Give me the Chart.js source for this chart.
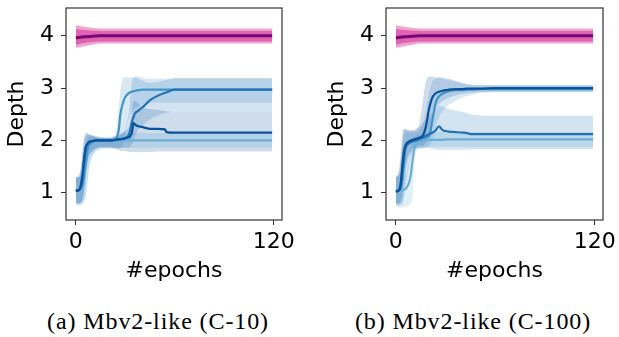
<!DOCTYPE html>
<html>
<head>
<meta charset="utf-8">
<script src="https://cdn.jsdelivr.net/npm/chart.js@4.4.0/dist/chart.umd.min.js"></script>
<style>
body { margin: 0; background: #fff; width: 619px; height: 337px; overflow: hidden; position: relative; }
canvas { position: absolute; top: 0; }
#c10 { left: 0; }
#c100 { left: 320px; }
.cap { position: absolute; top: 309px; font-family: "Liberation Serif"; font-size: 24px; letter-spacing: 0.9px;
       line-height: 24px; white-space: nowrap; transform: translateX(-50%); color: #000; }
</style>
</head>
<body>
<canvas id="c10" width="305" height="295"></canvas>
<canvas id="c100" width="299" height="295"></canvas>
<div class="cap" style="left:158px">(a) Mbv2-like (C-10)</div>
<div class="cap" style="left:473px">(b) Mbv2-like (C-100)</div>
<script>
const xTicks = [0, 120];
const yTicks = [1, 2, 3, 4];

// pink series (same in both panels)
const magEpochs  = [0, 5, 10, 15, 119];
const magMean    = [3.96, 3.98, 3.99, 4.0, 4.0];
const magOuterLo = [3.77, 3.80, 3.83, 3.85, 3.85];
const magOuterHi = [4.20, 4.17, 4.15, 4.14, 4.14];
const magInnerLo = [3.83, 3.86, 3.88, 3.89, 3.89];
const magInnerHi = [4.13, 4.11, 4.10, 4.09, 4.09];

// (a) C-10
const c10Epochs = [0, 2, 3, 4, 5, 6, 7, 8, 10, 12, 15, 20, 24, 26, 27, 28, 29, 30, 32, 33, 34, 35, 36, 38, 40, 42, 45, 50, 54, 55, 60, 80, 100, 119];
const c10A = [1.05,1.05,1.08,1.15,1.35,1.6,1.82,1.92,1.97,1.99,2.0,2.0,2.02,2.2,2.5,2.65,2.76,2.83,2.9,2.92,2.93,2.94,2.95,2.96,2.97,2.97,2.97,2.97,2.97,2.97,2.97,2.97,2.97,2.97];
const c10B = [1.04,1.06,1.15,1.35,1.65,1.87,1.94,1.97,1.99,2.0,2.0,2.0,2.01,2.02,2.02,2.03,2.04,2.05,2.1,2.2,2.35,2.45,2.52,2.57,2.62,2.68,2.77,2.86,2.91,2.92,2.97,2.97,2.97,2.97];
const c10C = [1.03,1.05,1.12,1.3,1.62,1.86,1.93,1.97,1.99,2.0,2.0,2.0,2.01,2.02,2.02,2.03,2.03,2.04,2.06,2.08,2.15,2.33,2.3,2.27,2.26,2.24,2.22,2.22,2.21,2.16,2.15,2.15,2.15,2.15];
const c10D = [1.06,1.06,1.07,1.12,1.3,1.55,1.78,1.9,1.96,1.98,1.99,2.0,2.0,2.0,2.0,2.0,2.0,2.0,2.0,2.0,2.0,2.0,2.0,2.0,2.0,2.0,2.0,2.0,2.0,2.0,2.0,2.0,2.0,2.0];
const c10ALo = [0.78,0.75,0.76,0.78,0.85,0.95,1.2,1.45,1.7,1.8,1.85,1.87,1.85,1.84,1.85,1.9,2.0,2.2,2.4,2.5,2.55,2.6,2.62,2.65,2.68,2.7,2.72,2.72,2.72,2.72,2.72,2.72,2.72,2.72];
const c10AHi = [1.3,1.3,1.35,1.45,1.7,1.95,2.1,2.12,2.1,2.08,2.06,2.05,2.12,2.6,2.95,3.15,3.2,3.2,3.2,3.2,3.2,3.21,3.22,3.22,3.2,3.19,3.18,3.18,3.18,3.18,3.19,3.19,3.19,3.19];
const c10BLo = [0.8,0.78,0.8,0.85,1.0,1.3,1.55,1.7,1.8,1.85,1.88,1.88,1.87,1.86,1.86,1.86,1.86,1.86,1.86,1.88,1.92,2.0,2.1,2.2,2.28,2.33,2.4,2.48,2.52,2.53,2.55,2.55,2.55,2.55];
const c10BHi = [1.3,1.35,1.5,1.8,2.05,2.15,2.15,2.12,2.1,2.08,2.06,2.05,2.07,2.08,2.1,2.12,2.15,2.25,2.5,2.8,3.1,3.2,3.2,3.18,3.15,3.12,3.1,3.12,3.15,3.16,3.19,3.19,3.19,3.19];
const c10CLo = [0.8,0.8,0.82,0.88,1.05,1.35,1.6,1.72,1.8,1.84,1.86,1.86,1.84,1.82,1.8,1.8,1.8,1.8,1.78,1.78,1.78,1.78,1.78,1.78,1.78,1.78,1.78,1.79,1.79,1.79,1.79,1.79,1.79,1.79];
const c10CHi = [1.28,1.3,1.45,1.75,2.0,2.1,2.12,2.1,2.08,2.06,2.05,2.05,2.08,2.1,2.12,2.14,2.16,2.18,2.25,2.35,2.55,2.75,2.75,2.7,2.65,2.62,2.6,2.58,2.56,2.55,2.55,2.55,2.55,2.55];
const c10DLo = [0.82,0.8,0.8,0.8,0.85,0.95,1.2,1.5,1.7,1.78,1.82,1.84,1.84,1.86,1.86,1.86,1.86,1.86,1.86,1.86,1.86,1.86,1.86,1.86,1.86,1.86,1.86,1.86,1.86,1.86,1.86,1.86,1.86,1.86];
const c10DHi = [1.3,1.3,1.32,1.4,1.6,1.85,2.0,2.05,2.08,2.06,2.05,2.05,2.08,2.14,2.14,2.14,2.14,2.14,2.14,2.14,2.14,2.14,2.14,2.14,2.14,2.14,2.14,2.14,2.14,2.14,2.14,2.14,2.14,2.14];

// (b) C-100
const c100Epochs = [0, 2, 3, 4, 5, 6, 8, 9, 10, 11, 12, 14, 16, 18, 20, 22, 24, 26, 28, 30, 32, 36, 40, 43, 45, 50, 60, 80, 100, 119];
const c100P = [1.02,1.05,1.2,1.55,1.82,1.92,1.98,2.0,2.01,2.02,2.03,2.05,2.08,2.25,2.6,2.82,2.9,2.93,2.95,2.96,2.97,2.98,2.98,2.99,2.99,2.99,3.0,3.0,3.0,3.0];
const c100Q = [1.04,1.05,1.1,1.3,1.6,1.85,1.95,1.97,1.98,1.99,2.0,2.02,2.04,2.06,2.08,2.38,2.72,2.84,2.89,2.92,2.94,2.96,2.96,2.97,2.97,2.98,2.98,2.98,2.98,2.98];
const c100R = [1.03,1.05,1.15,1.45,1.75,1.88,1.95,1.97,1.98,1.99,2.0,2.03,2.06,2.09,2.12,2.15,2.19,2.27,2.2,2.18,2.17,2.16,2.15,2.14,2.12,2.12,2.12,2.12,2.12,2.12];
const c100S = [1.04,1.04,1.05,1.05,1.06,1.08,1.2,1.35,1.6,1.82,1.93,1.98,2.0,2.0,2.01,2.01,2.01,2.01,2.01,2.02,2.02,2.02,2.02,2.02,2.02,2.02,2.02,2.02,2.02,2.02];
const c100PLo = [0.8,0.8,0.85,0.95,1.3,1.55,1.75,1.8,1.85,1.87,1.88,1.9,1.9,1.95,2.1,2.4,2.6,2.7,2.75,2.78,2.82,2.86,2.89,2.9,2.91,2.92,2.93,2.93,2.93,2.93];
const c100PHi = [1.3,1.45,1.8,2.15,2.22,2.22,2.2,2.2,2.2,2.2,2.22,2.3,2.7,3.1,3.22,3.22,3.2,3.2,3.2,3.19,3.18,3.14,3.1,3.08,3.07,3.06,3.06,3.06,3.06,3.06];
const c100QLo = [0.75,0.75,0.76,0.78,0.9,1.1,1.5,1.65,1.75,1.8,1.82,1.85,1.85,1.87,1.9,2.0,2.25,2.45,2.55,2.62,2.68,2.76,2.82,2.85,2.87,2.9,2.92,2.92,2.92,2.92];
const c100QHi = [1.3,1.35,1.5,1.85,2.1,2.15,2.15,2.15,2.15,2.15,2.15,2.2,2.3,2.55,2.9,3.12,3.18,3.2,3.18,3.16,3.15,3.12,3.09,3.07,3.06,3.05,3.05,3.05,3.05,3.05];
const c100RLo = [0.78,0.78,0.8,0.85,1.1,1.4,1.7,1.75,1.8,1.82,1.84,1.85,1.85,1.85,1.85,1.84,1.83,1.82,1.82,1.82,1.82,1.82,1.82,1.82,1.83,1.83,1.83,1.83,1.83,1.83];
const c100RHi = [1.3,1.4,1.65,2.0,2.2,2.2,2.18,2.18,2.18,2.18,2.2,2.25,2.32,2.4,2.45,2.52,2.6,2.66,2.65,2.62,2.6,2.57,2.55,2.52,2.5,2.48,2.47,2.47,2.47,2.47];
const c100SLo = [0.75,0.72,0.72,0.72,0.73,0.74,0.76,0.8,0.9,1.5,1.75,1.85,1.87,1.88,1.88,1.88,1.88,1.88,1.88,1.88,1.88,1.88,1.88,1.88,1.88,1.88,1.88,1.88,1.88,1.88];
const c100SHi = [1.3,1.3,1.3,1.32,1.35,1.4,1.6,1.8,1.95,2.05,2.1,2.12,2.14,2.15,2.15,2.16,2.16,2.16,2.16,2.16,2.16,2.16,2.16,2.16,2.16,2.16,2.16,2.16,2.16,2.16];

const DARK = '#08519c', MIDDARK = '#2171b5', MID = '#4292c6', LIGHT = '#6baed6';
const PINK_LINE = '#7a0177';

function xy(epochs, vals) {
    return epochs.map((e, i) => ({ x: e, y: vals[i] }));
}

function line(epochs, vals, color, width) {
    return { data: xy(epochs, vals), borderColor: color, borderWidth: width || 2.2, fill: false, pointRadius: 0 };
}

function band(epochs, lo, hi, color) {
    return [
        { data: xy(epochs, lo), borderWidth: 0, borderColor: 'transparent', fill: false, pointRadius: 0 },
        { data: xy(epochs, hi), borderWidth: 0, borderColor: 'transparent', fill: '-1', backgroundColor: color, pointRadius: 0 }
    ];
}

function blueBand(hex) {
    const r = parseInt(hex.slice(1, 3), 16), g = parseInt(hex.slice(3, 5), 16), b = parseInt(hex.slice(5, 7), 16);
    return 'rgba(' + r + ',' + g + ',' + b + ',0.2)';
}

const frame = {
    id: 'frame',
    afterDatasetsDraw(chart) {
        const { ctx, chartArea: a } = chart;
        ctx.save();
        ctx.strokeStyle = '#333';
        ctx.lineWidth = 1.2;
        ctx.strokeRect(a.left, a.top, a.right - a.left, a.bottom - a.top);
        ctx.restore();
    }
};

const tickFont = { family: 'DejaVu Sans', size: 22 };

function makeChart(id, rightPad, lines, bands) {
    const datasets = [line(magEpochs, magMean, PINK_LINE, 3)];
    lines.forEach(l => datasets.push(l));
    datasets.push(...band(magEpochs, magInnerLo, magInnerHi, 'rgba(197,27,138,0.45)'));
    datasets.push(...band(magEpochs, magOuterLo, magOuterHi, 'rgba(221,52,151,0.45)'));
    bands.forEach(b => datasets.push(...b));

    new Chart(document.getElementById(id), {
        type: 'line',
        data: { datasets: datasets },
        plugins: [frame],
        options: {
            responsive: false,
            animation: false,
            layout: { padding: { left: 0, right: rightPad, top: 8, bottom: 0 } },
            plugins: { legend: { display: false }, tooltip: { enabled: false } },
            elements: { line: { cubicInterpolationMode: 'monotone' } },
            scales: {
                x: {
                    type: 'linear', min: -5.95, max: 124.95,
                    afterBuildTicks: s => { s.ticks = xTicks.map(v => ({ value: v })); },
                    afterFit: s => { s.height = 75; s.paddingLeft = 0; s.paddingRight = 0; },
                    grid: { drawOnChartArea: false, drawTicks: true, tickLength: 5, color: '#333' },
                    border: { display: false },
                    ticks: { font: tickFont, color: '#000', padding: 4, maxRotation: 0, autoSkip: false },
                    title: { display: true, text: '#epochs', font: tickFont, color: '#000', padding: { top: 0, bottom: 11 } }
                },
                y: {
                    type: 'linear', min: 0.48, max: 4.53,
                    afterBuildTicks: s => { s.ticks = yTicks.map(v => ({ value: v })); },
                    afterFit: s => { s.width = 66; s.paddingTop = 0; s.paddingBottom = 0; },
                    grid: { drawOnChartArea: false, drawTicks: true, tickLength: 5, color: '#333' },
                    border: { display: false },
                    ticks: { font: tickFont, color: '#000', padding: 7 },
                    title: { display: true, text: 'Depth', font: tickFont, color: '#000', padding: { top: 4, bottom: 0 } }
                }
            }
        }
    });
}

makeChart('c10', 23,
    [line(c10Epochs, c10C, DARK), line(c10Epochs, c10B, MIDDARK), line(c10Epochs, c10A, MID), line(c10Epochs, c10D, LIGHT)],
    [band(c10Epochs, c10CLo, c10CHi, blueBand(DARK)), band(c10Epochs, c10BLo, c10BHi, blueBand(MIDDARK)),
     band(c10Epochs, c10ALo, c10AHi, blueBand(MID)), band(c10Epochs, c10DLo, c10DHi, blueBand(LIGHT))]);

makeChart('c100', 16,
    [line(c100Epochs, c100P, DARK), line(c100Epochs, c100R, MIDDARK), line(c100Epochs, c100Q, MID), line(c100Epochs, c100S, LIGHT)],
    [band(c100Epochs, c100PLo, c100PHi, blueBand(DARK)), band(c100Epochs, c100RLo, c100RHi, blueBand(MIDDARK)),
     band(c100Epochs, c100QLo, c100QHi, blueBand(MID)), band(c100Epochs, c100SLo, c100SHi, blueBand(LIGHT))]);
</script>
</body>
</html>
